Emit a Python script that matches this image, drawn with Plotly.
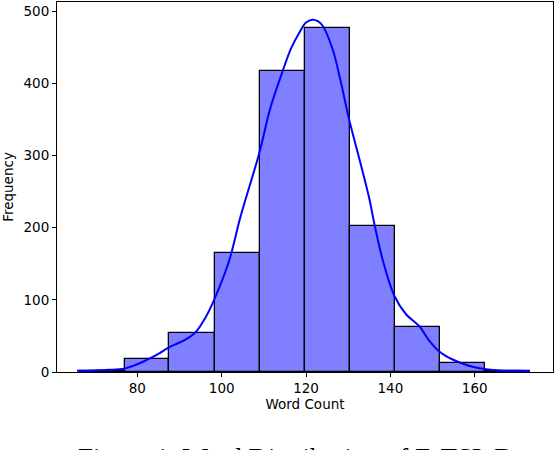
import plotly.graph_objects as go

# Histogram data
bin_edges = [66.3, 76.96, 87.6, 98.3, 109.0, 119.7, 130.3, 141.0, 151.7, 162.4, 173.1]
counts = [2, 18, 54, 165, 417, 477, 202, 62, 12, 1]

# KDE curve points (word count, scaled frequency)
kde_x = [65.7, 69.5, 73.2, 76.8, 79.0, 81.1, 83.2, 85.1, 87.5, 89.5, 91.4, 93.8, 96.2, 98.2,
         101.7, 104.5, 108.9, 111.5, 114.4, 116.5, 118.4, 120.0, 121.5, 122.8, 123.9, 126.3,
         128.2, 130.2, 132.2, 135.0, 136.2, 138.1, 140.9, 143.7, 146.9, 149.0, 151.6, 154.5,
         157.2, 160.0, 162.7, 166.0, 169.5, 173.1]
kde_y = [1.8, 2.2, 3.0, 4.6, 8.5, 13.5, 19.5, 25.5, 34, 39.5, 44.7, 55, 76, 100,
         153, 216, 303, 365, 416, 449, 470, 484, 488, 486, 480, 447,
         403, 350, 305, 240, 205, 157, 106, 80, 63, 45, 28.5, 18,
         11.5, 6.5, 3.8, 2.0, 1.6, 1.5]

x_ticks = [80, 100, 120, 140, 160]
y_ticks = [0, 100, 200, 300, 400, 500]

centers = [(a + b) / 2 for a, b in zip(bin_edges[:-1], bin_edges[1:])]
widths = [b - a for a, b in zip(bin_edges[:-1], bin_edges[1:])]

fig = go.Figure()
fig.add_trace(go.Bar(
    x=centers, y=counts, width=widths,
    marker=dict(color="rgba(0,0,255,0.5)", line=dict(color="black", width=1.3)),
    showlegend=False, hoverinfo="skip",
))
fig.add_trace(go.Scatter(
    x=kde_x, y=kde_y, mode="lines",
    line=dict(color="#0000ff", width=2, shape="spline", smoothing=1.0),
    showlegend=False,
))

font_family = "DejaVu Sans"
fig.update_layout(
    width=556, height=450,
    margin=dict(l=57, r=3, t=2, b=78, autoexpand=False),
    paper_bgcolor="white", plot_bgcolor="white",
    font=dict(family=font_family, size=13.5, color="black"),
    bargap=0,
    xaxis=dict(
        range=[60.95, 178.55], tickvals=x_ticks, ticks="outside", ticklen=4,
        tickcolor="black", showline=True, linecolor="black", linewidth=1, mirror=True,
        showgrid=False, zeroline=False, automargin=False,
        title=dict(text="Word Count", standoff=4, font=dict(size=13.5)),
    ),
    yaxis=dict(
        range=[0, 512.5], tickvals=y_ticks, ticks="outside", ticklen=4,
        tickcolor="black", showline=True, linecolor="black", linewidth=1, mirror=True,
        showgrid=False, zeroline=False, automargin=False,
        title=dict(text="Frequency", standoff=8, font=dict(size=13.5)),
    ),
    annotations=[dict(
        text="Figure 1: Word Distribution of E-TSL Dataset",
        xref="paper", yref="paper", x=(76 - 57) / 496, y=-(441 - 372) / 370,
        xanchor="left", yanchor="top", showarrow=False,
        font=dict(family="Liberation Serif", size=27, color="black"),
    )],
)

fig.write_html("out.html", config={"displayModeBar": False},
               post_script="document.body.style.margin='0';")
